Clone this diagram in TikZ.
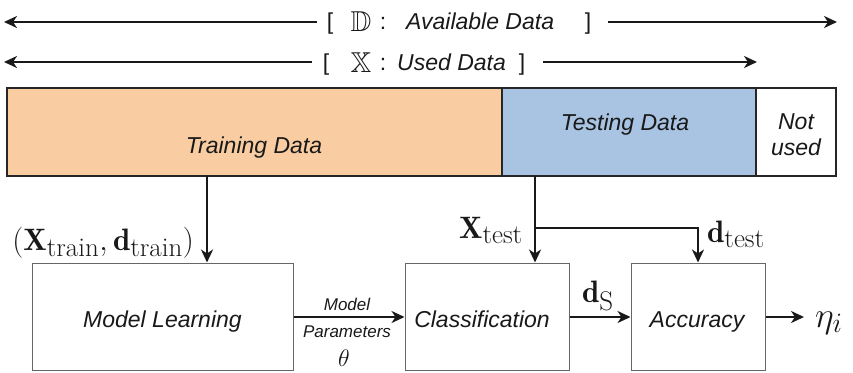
\RequirePackage{fix-cm}
\documentclass[tikz,border=0pt]{standalone}
\usepackage{amssymb}
\usepackage{fontspec}
\newfontfamily\lsans{Liberation Sans}
\usetikzlibrary{arrows.meta}
\DeclareMathSizes{31}{31}{27}{20}
\DeclareMathSizes{36}{36}{28}{22}
\DeclareMathSizes{23}{23}{18}{14}
\DeclareMathSizes{24}{24}{18}{14}
\definecolor{trainc}{RGB}{249,205,161}
\definecolor{testc}{RGB}{169,195,226}
\definecolor{ink}{RGB}{25,25,25}
\tikzset{
  arr/.style={draw=ink, line width=2.8pt, -{Stealth[length=13pt,width=12pt,inset=4pt]}},
  stxt/.style={text=ink, font=\lsans\itshape\fontsize{23}{26}\selectfont, inner sep=0pt},
  brk/.style={text=ink, font=\lsans\fontsize{23}{26}\selectfont, inner sep=0pt},
  smtxt/.style={text=ink, font=\lsans\itshape\fontsize{17}{20}\selectfont, inner sep=0pt},
  mtxt/.style={text=ink, font=\fontsize{31}{37}\selectfont, inner sep=0pt},
  blk/.style={draw=black!60, line width=1pt, inner sep=0pt, minimum height=107pt},
  barbox/.style={draw=black!85, line width=1.6pt, inner sep=0pt, minimum height=88pt},
}
\begin{document}
\begin{tikzpicture}[x=1pt,y=-1pt]
\useasboundingbox (0,0) rectangle (853,372);

% ---- top range arrows ----
\node[brk, anchor=base] (lb1) at (330,29) {[};
\node[brk, anchor=base] (dd) at (361,31) {\scalebox{1.25}{$\mathbb{D}$}};
\node[brk, anchor=base] (c1) at (383,29) {:};
\node[stxt, anchor=base west] (av) at (406,29) {Available Data};
\node[brk, anchor=base] (rb1) at (588,29) {]};
\coordinate (l1s) at (317,22);
\coordinate (l1e) at (4,22);
\coordinate (r1s) at (608,22);
\coordinate (r1e) at (837,22);
\draw[arr] (l1s) -- (l1e);
\draw[arr] (r1s) -- (r1e);

\node[brk, anchor=base] (lb2) at (326,70) {[};
\node[brk, anchor=base] (xx) at (361,72) {\scalebox{1.25}{$\mathbb{X}$}};
\node[brk, anchor=base] (c2) at (383,70) {:};
\node[stxt, anchor=base west] (ud) at (397,70) {Used Data};
\node[brk, anchor=base] (rb2) at (522,70) {]};
\coordinate (l2s) at (312,62);
\coordinate (l2e) at (4,62);
\coordinate (r2s) at (543,62);
\coordinate (r2e) at (757,62);
\draw[arr] (l2s) -- (l2e);
\draw[arr] (r2s) -- (r2e);

% ---- data bar ----
\node[barbox, fill=trainc, minimum width=495pt] (train) at (254.5,132) {};
\node[barbox, fill=testc, minimum width=254pt] (test) at (629,132) {};
\node[barbox, fill=white, minimum width=80pt] (nu) at (796,132) {};
\node[stxt, anchor=base] (traint) at (254,153) {Training Data};
\node[stxt, anchor=base] (testt) at (625,130) {Testing Data};
\node[stxt, anchor=base, align=center] (nut) at (796,155) {Not\\[-0.5pt]used};

% ---- blocks ----
\node[blk, minimum width=261pt] (ml) at (162.5,316.5) {};
\node[blk, minimum width=164pt] (cl) at (487,316.5) {};
\node[blk, minimum width=134pt] (acc) at (698,316.5) {};
\node[stxt, anchor=base] (mlt) at (162.5,327) {Model Learning};
\node[stxt, anchor=base] (clt) at (482,327) {Classification};
\node[stxt, anchor=base] (acct) at (697,327) {Accuracy};

% ---- connectors ----
\coordinate (tr) at (207,176);
\draw[arr] (tr) -- (tr |- ml.north);
\coordinate (ts) at (535,176);
\coordinate (br) at (535,228);
\draw[arr] (ts) -- (ts |- cl.north);
\draw[arr] (br) -| (acc.north);

\draw[arr] (ml.east |- 0,317) -- (cl.west |- 0,317);
\draw[arr] (cl.east |- 0,317) -- (acc.west |- 0,317);
\coordinate (out) at (804,317);
\draw[arr] (acc.east |- 0,317) -- (out);

% ---- labels ----
\node[mtxt, anchor=base east] (xtr) at (194,250) {$(\mathbf{X}_{\mathrm{train}},\mathbf{d}_{\mathrm{train}})$};
\node[mtxt, anchor=base east] (xte) at (523,238) {$\mathbf{X}_{\mathrm{test}}$};
\node[mtxt, anchor=base west] (dte) at (707,242) {$\mathbf{d}_{\mathrm{test}}$};
\node[mtxt, anchor=base west] (ds) at (582,302) {$\mathbf{d}_{\mathrm{S}}$};
\node[text=ink, font=\fontsize{36}{42}\selectfont, inner sep=0pt, anchor=base west] (eta) at (815,327) {$\eta_i$};
\node[smtxt, anchor=base] (mp1) at (347,310) {Model};
\node[smtxt, anchor=base] (mp2) at (347,337) {Parameters};
\node[text=ink, font=\fontsize{24}{28}\selectfont, inner sep=0pt, anchor=base] (th) at (344,366) {$\theta$};
\end{tikzpicture}
\end{document}
